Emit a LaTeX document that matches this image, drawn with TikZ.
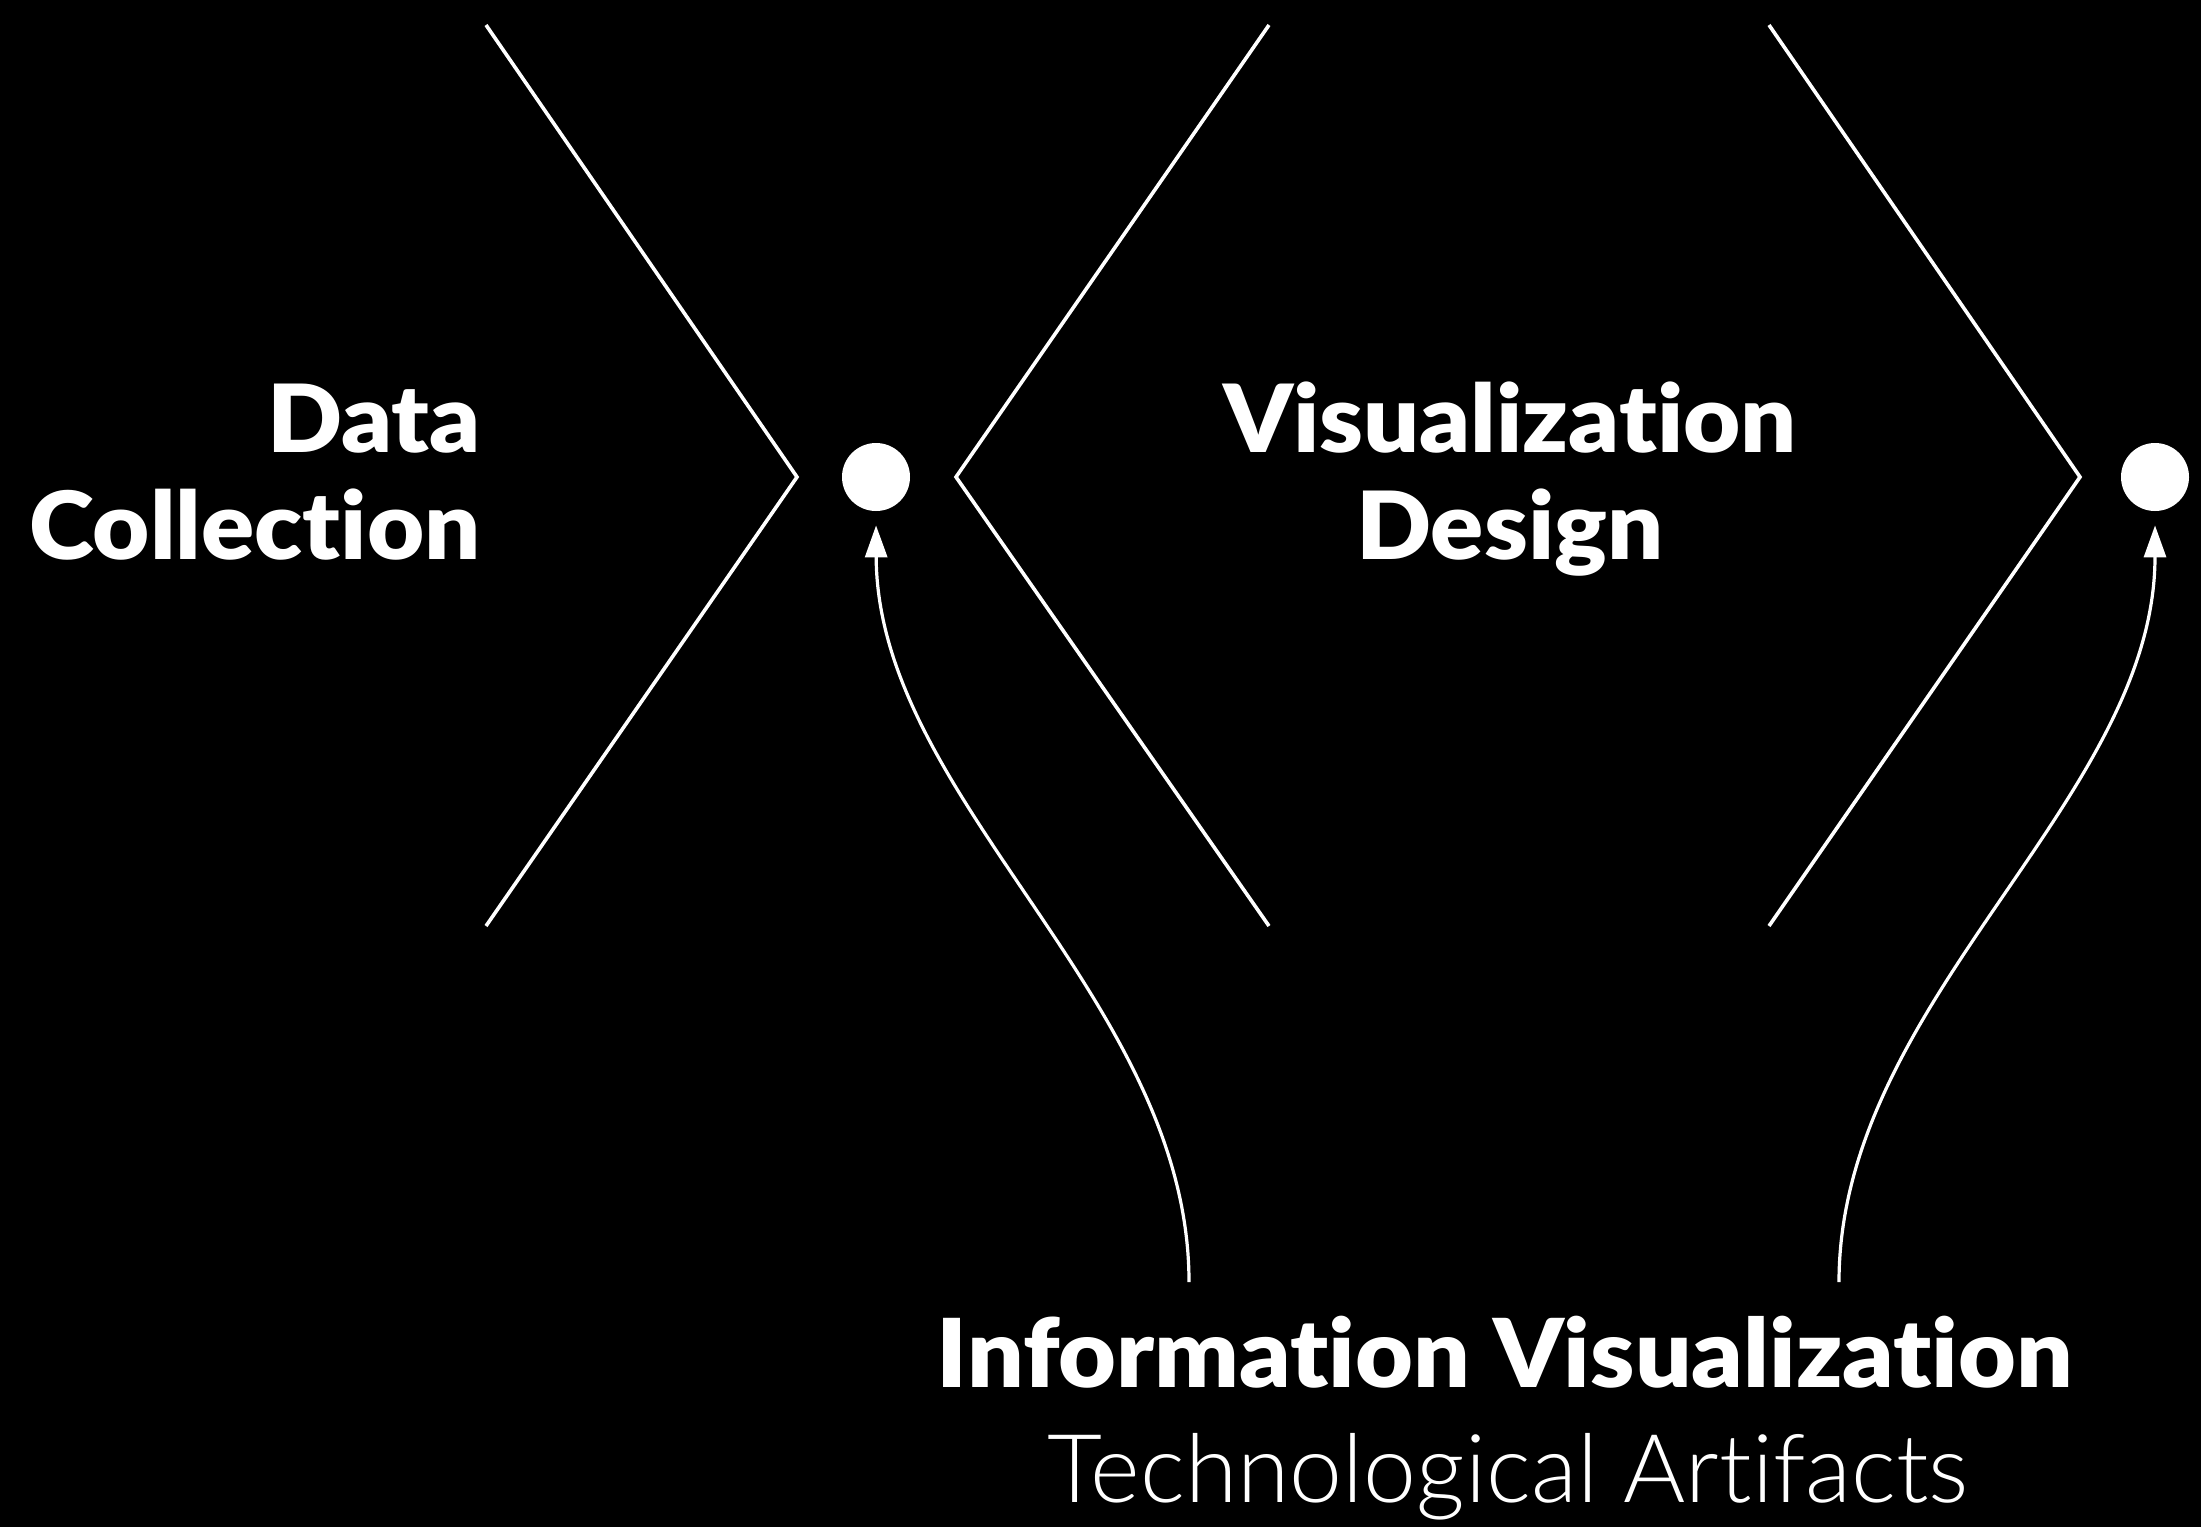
\documentclass[tikz,border=0pt]{standalone}
\usepackage{fontspec}
\newfontfamily\latoblack[RawFeature=-liga,FakeStretch=1.05]{Lato Black}
\newfontfamily\latolight[RawFeature=-liga]{Lato Light}
\usetikzlibrary{arrows.meta}
\begin{document}
\begin{tikzpicture}[x=0.5pt,y=-0.5pt,
  chev/.style={draw=white,line width=1.8pt,line join=miter},
  dotn/.style={circle,fill=white,minimum size=34pt,inner sep=0pt},
  title/.style={text=white,font=\latoblack\fontsize{47pt}{47pt}\selectfont,inner sep=0pt},
  sub/.style={text=white,font=\latolight\fontsize{47.5pt}{47.5pt}\selectfont,inner sep=0pt},
  flow/.style={draw=white,line width=1.6pt,-{Triangle[width=11pt,length=16pt]},shorten >=7pt}]
\fill[black] (0,0) rectangle (2201,1527);
\useasboundingbox (0,0) rectangle (2201,1527);
% chevrons
\coordinate (c1t) at (486,25); \coordinate (c1m) at (797,477); \coordinate (c1b) at (486,926);
\coordinate (c2t) at (1269,25); \coordinate (c2m) at (956,477); \coordinate (c2b) at (1269,926);
\coordinate (c3t) at (1769,25); \coordinate (c3m) at (2080,477); \coordinate (c3b) at (1769,926);
\draw[chev] (c1t) -- (c1m) -- (c1b);
\draw[chev] (c2t) -- (c2m) -- (c2b);
\draw[chev] (c3t) -- (c3m) -- (c3b);
% dots
\node[dotn] (d1) at (876,477) {};
\node[dotn] (d2) at (2155,477) {};
% labels
\node[title,anchor=base east] (data) at (481,452) {Data};
\node[title,anchor=base east] (coll) at (481,559) {Collection};
\node[title,anchor=base] (vis) at (1510,452) {Visualization};
\node[title,anchor=base] (des) at (1510,559) {Design};
\node[title,font=\latoblack\fontsize{47.5pt}{47.5pt}\selectfont,anchor=base] (iv) at (1505,1387) {Information Visualization};
\node[sub,anchor=base] (ta) at (1508,1502) {Technological Artifacts};
% arrows
\coordinate (s1) at (1189,1282);
\coordinate (s2) at (1839,1282);
\draw[flow] (s1) .. controls (1189,1000) and (877,800) .. (d1.south);
\draw[flow] (s2) .. controls (1839,1000) and (2155,800) .. (d2.south);
\end{tikzpicture}
\end{document}
